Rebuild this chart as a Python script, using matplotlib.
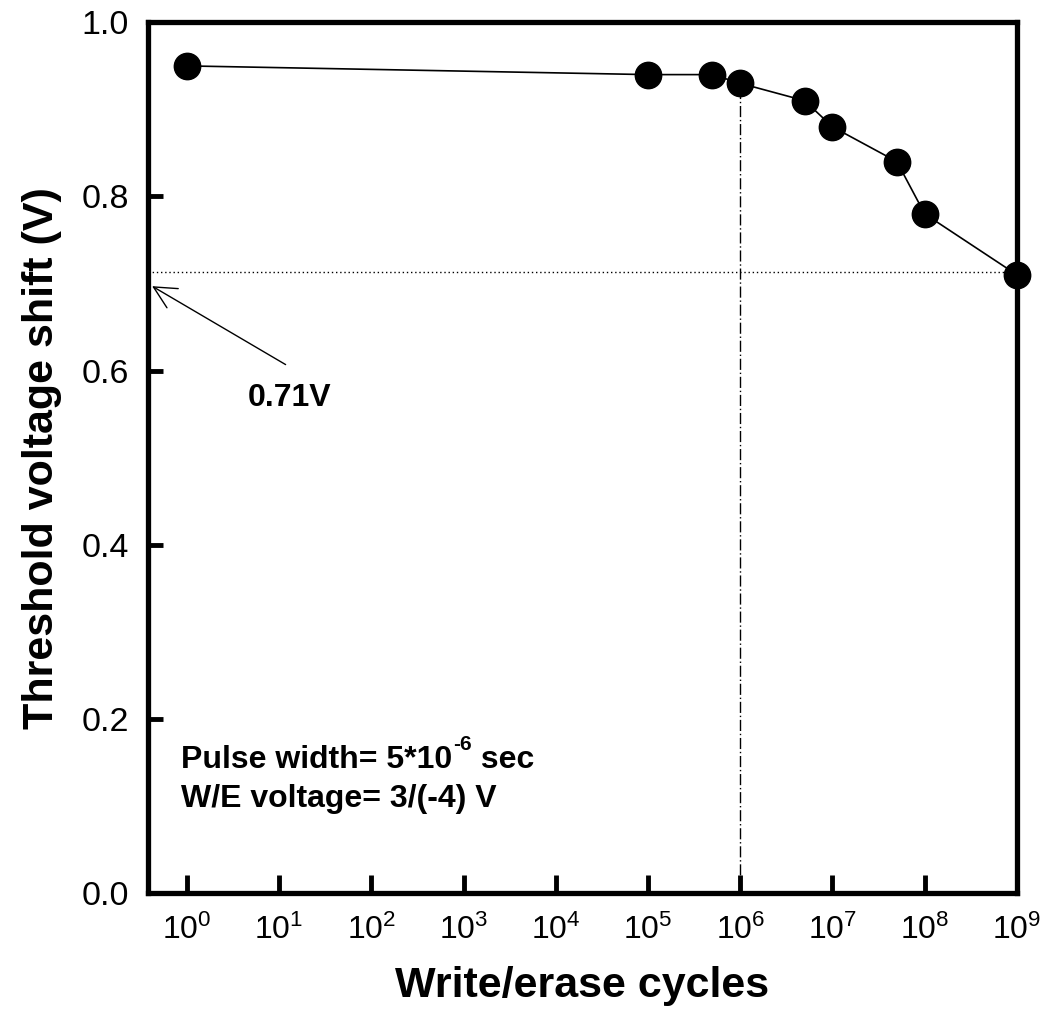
import math
import matplotlib
matplotlib.use('Agg')
import matplotlib.pyplot as plt
from matplotlib.ticker import FixedLocator, FuncFormatter

plt.rcParams['font.family'] = ['Liberation Sans', 'DejaVu Sans']
plt.rcParams['mathtext.fontset'] = 'custom'
plt.rcParams['mathtext.rm'] = 'Liberation Sans'
plt.rcParams['mathtext.bf'] = 'Liberation Sans:bold'

# data
cycles = [1, 1e5, 5e5, 1e6, 5e6, 1e7, 5e7, 1e8, 1e9]
vth_shift = [0.95, 0.94, 0.94, 0.93, 0.91, 0.88, 0.84, 0.78, 0.71]
x_decades = list(range(0, 10))
y_ticks = [0.0, 0.2, 0.4, 0.6, 0.8, 1.0]
limit_level = 0.713
limit_cycle = 1e6

fig = plt.figure(figsize=(10.43, 10.17), dpi=100)
ax = fig.add_axes([0.142, 0.122, 0.833, 0.856])

ax.set_xscale('log')
ax.set_xlim(10 ** -0.42, 1e9)
ax.set_ylim(0, 1.0)

# reference lines
ax.plot([10 ** -0.42, cycles[-1]], [limit_level, limit_level],
        color='black', lw=1.0, ls=(0, (1, 2)), zorder=2)
ax.plot([limit_cycle, limit_cycle], [0, vth_shift[3]],
        color='black', lw=1.0, ls=(0, (8, 2, 1, 2)), zorder=2)

# data
ax.plot(cycles, vth_shift, color='black', lw=1.2, marker='o', ms=19,
        mfc='black', mec='black', zorder=4, clip_on=False)

# annotation
ax.annotate('0.71V', xy=(0.42, 0.697), xytext=(4.6, 0.569),
            fontsize=23, fontweight='bold', va='center', ha='left',
            arrowprops=dict(arrowstyle='->', color='black', lw=1.0,
                            mutation_scale=40, shrinkA=0, shrinkB=0,
                            relpos=(0.45, 1.6)))

# conditions text (superscript drawn as its own text to keep the plain hyphen)
t1 = ax.text(0.86, 0.136, 'Pulse width= 5*10', fontsize=23,
             fontweight='bold', va='bottom', ha='left')
t2 = ax.annotate('-6', xy=(1, 1), xycoords=t1, xytext=(1, 7),
                 textcoords='offset points', fontsize=15, fontweight='bold',
                 va='top', ha='left')
ax.annotate(' sec', xy=(1, 0), xycoords=(t2, t1), fontsize=23,
            fontweight='bold', va='bottom', ha='left')
ax.text(0.86, 0.108, 'W/E voltage= 3/(-4) V', fontsize=23,
        fontweight='bold', va='center', ha='left')

# axes styling
for side in ['left', 'right', 'top', 'bottom']:
    ax.spines[side].set_linewidth(3.8)

ax.xaxis.set_major_locator(FixedLocator([10 ** d for d in x_decades]))
ax.xaxis.set_minor_locator(FixedLocator([]))
ax.xaxis.set_major_formatter(FuncFormatter(
    lambda v, p: r'$\mathregular{10^{%d}}$' % round(math.log10(v))))
ax.set_yticks(y_ticks)
ax.set_yticklabels(['%.1f' % t for t in y_ticks])

ax.tick_params(axis='x', direction='in', length=13, width=3.5, pad=16,
               labelsize=23, top=False)
ax.tick_params(axis='y', direction='in', length=11, width=3.5, pad=14,
               labelsize=24.5, right=False)

ax.set_xlabel('Write/erase cycles', fontsize=31, fontweight='bold', labelpad=14)
ax.set_ylabel('Threshold voltage shift (V)', fontsize=31, fontweight='bold',
              labelpad=14)

fig.savefig('out.png', dpi=100)
